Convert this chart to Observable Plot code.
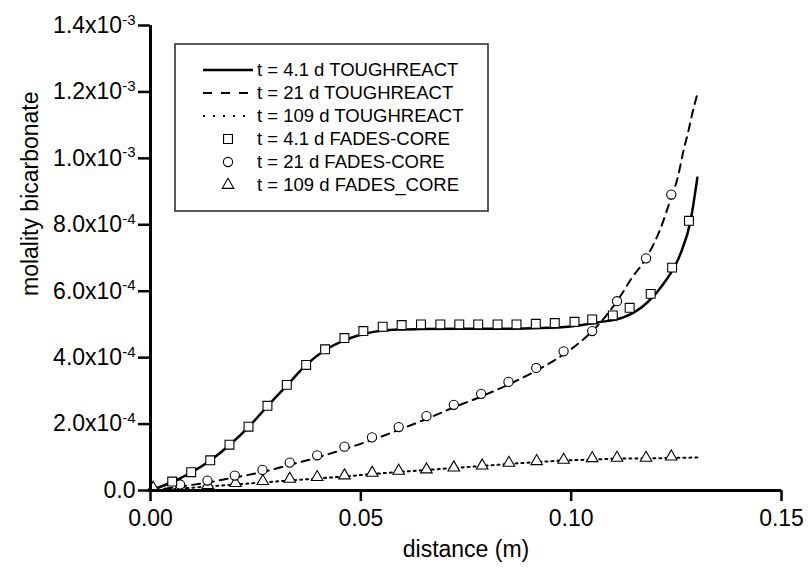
<!DOCTYPE html>
<html><head><meta charset="utf-8">
<script src="https://cdn.jsdelivr.net/npm/d3@7"></script>
<script src="https://cdn.jsdelivr.net/npm/@observablehq/plot@0.6"></script>
<style>html,body{margin:0;padding:0;background:#fff;} #chart svg{display:block;}</style>
</head><body><div id="chart"></div>
<script>
// TOUGHREACT model curves
const tr41_x = [0, 0.00516, 0.00968, 0.01419, 0.01878, 0.0233, 0.02781, 0.0324, 0.03701, 0.04153, 0.04612, 0.05063, 0.05522, 0.05974, 0.0642, 0.0737, 0.0832, 0.0927, 0.0998, 0.1063, 0.1124, 0.1181, 0.122, 0.126, 0.1284, 0.13];
const tr41_y = [0, 2.56e-5, 5.42e-5, 9.03e-5, 1.37e-4, 1.91e-4, 2.54e-4, 3.16e-4, 3.78e-4, 4.23e-4, 4.52e-4, 4.71e-4, 4.82e-4, 4.85e-4, 4.86e-4, 4.87e-4, 4.87e-4, 4.89e-4, 4.94e-4, 5.06e-4, 5.21e-4, 5.66e-4, 6.23e-4, 7.13e-4, 8.13e-4, 9.42e-4];
const tr21_x = [0, 0.00713, 0.01355, 0.01997, 0.02662, 0.03304, 0.0397, 0.04612, 0.05266, 0.05895, 0.06561, 0.07203, 0.07861, 0.0851, 0.09176, 0.09817, 0.10341, 0.10697, 0.11101, 0.11434, 0.11791, 0.12124, 0.12385, 0.12528, 0.12671, 0.1279, 0.12885, 0.13003];
const tr21_y = [0, 1.2e-5, 2.41e-5, 3.91e-5, 5.57e-5, 7.68e-5, 9.94e-5, 1.249e-4, 1.52e-4, 1.822e-4, 2.153e-4, 2.499e-4, 2.83e-4, 3.191e-4, 3.613e-4, 4.095e-4, 4.607e-4, 5.058e-4, 5.721e-4, 6.383e-4, 7.015e-4, 7.888e-4, 8.852e-4, 9.394e-4, 1.0237e-3, 1.0839e-3, 1.1381e-3, 1.1953e-3];
const tr109_x = [0, 0.00713, 0.01355, 0.02021, 0.02662, 0.03304, 0.0397, 0.04612, 0.0527, 0.05895, 0.06561, 0.07203, 0.07885, 0.0851, 0.09176, 0.09817, 0.105, 0.11101, 0.11791, 0.12385, 0.13003];
const tr109_y = [0, 6.0e-6, 1.2e-5, 1.81e-5, 2.41e-5, 3.01e-5, 3.61e-5, 4.22e-5, 4.97e-5, 5.57e-5, 6.17e-5, 6.77e-5, 7.38e-5, 7.98e-5, 8.58e-5, 9.03e-5, 9.33e-5, 9.63e-5, 9.63e-5, 9.79e-5, 9.94e-5];
// FADES-CORE points
const fc41_x = [0.00516, 0.00967, 0.0142, 0.01878, 0.0233, 0.0278, 0.0324, 0.037, 0.0415, 0.0461, 0.0506, 0.0552, 0.0597, 0.0643, 0.0689, 0.0734, 0.0779, 0.0825, 0.087, 0.0916, 0.0961, 0.1008, 0.105, 0.1099, 0.1139, 0.1189, 0.124, 0.128];
const fc41_y = [2.7e-5, 5.5e-5, 9.1e-5, 1.38e-4, 1.92e-4, 2.55e-4, 3.18e-4, 3.78e-4, 4.25e-4, 4.59e-4, 4.8e-4, 4.93e-4, 4.98e-4, 5.0e-4, 5.0e-4, 5.0e-4, 5.0e-4, 5.0e-4, 5.0e-4, 5.02e-4, 5.04e-4, 5.08e-4, 5.15e-4, 5.27e-4, 5.5e-4, 5.92e-4, 6.71e-4, 8.12e-4];
const fc21_x = [0.00704, 0.01355, 0.02004, 0.02662, 0.03311, 0.03962, 0.04611, 0.05265, 0.059, 0.0656, 0.0721, 0.0786, 0.0851, 0.0917, 0.0982, 0.105, 0.1109, 0.1178, 0.1238];
const fc21_y = [1.8e-5, 3.0e-5, 4.5e-5, 6.2e-5, 8.4e-5, 1.06e-4, 1.32e-4, 1.6e-4, 1.91e-4, 2.24e-4, 2.58e-4, 2.91e-4, 3.27e-4, 3.69e-4, 4.19e-4, 4.8e-4, 5.7e-4, 6.99e-4, 8.91e-4];
const fc109_x = [0.00064, 0.0071, 0.01363, 0.02021, 0.02670, 0.03311, 0.03962, 0.04611, 0.05270, 0.059, 0.0656, 0.0721, 0.07885, 0.0852, 0.0918, 0.0982, 0.105, 0.1109, 0.1178, 0.1238];
const fc109_y = [0.8e-5, 1.2e-5, 1.6e-5, 2.2e-5, 2.8e-5, 3.5e-5, 4.0e-5, 4.5e-5, 5.3e-5, 5.9e-5, 6.3e-5, 6.9e-5, 7.5e-5, 8.3e-5, 8.8e-5, 9.2e-5, 9.7e-5, 9.8e-5, 9.8e-5, 1.02e-4];
// Axes
const xTicks = [0, 0.05, 0.10, 0.15];
const xTickLabels = ["0.00", "0.05", "0.10", "0.15"];
const yTicks = [0, 0.0002, 0.0004, 0.0006, 0.0008, 0.0010, 0.0012, 0.0014];
const yTickLabels = ["0.0", "2.0x10^-4", "4.0x10^-4", "6.0x10^-4", "8.0x10^-4", "1.0x10^-3", "1.2x10^-3", "1.4x10^-3"];
const xTitle = "distance (m)";
const yTitle = "molality bicarbonate";
const legendLabels = ["t = 4.1 d TOUGHREACT", "t = 21 d TOUGHREACT", "t = 109 d TOUGHREACT", "t = 4.1 d FADES-CORE", "t = 21 d FADES-CORE", "t = 109 d FADES_CORE"];

const zip = (xs, ys) => xs.map((x, i) => ({x, y: ys[i]}));
const FONT = "'Liberation Sans', Arial, Helvetica, sans-serif";

const chart = Plot.plot({
  width: 809, height: 573,
  marginLeft: 150, marginRight: 28, marginTop: 25, marginBottom: 83,
  style: {fontFamily: FONT, fontSize: "23px", background: "white", color: "black"},
  x: {domain: [0, 0.15], axis: null},
  y: {domain: [0, 0.0014], axis: null},
  marks: [
    Plot.line(zip(tr109_x, tr109_y), {x: "x", y: "y", stroke: "black", strokeWidth: 2, strokeDasharray: "2,4", curve: "linear"}),
    Plot.line(zip(tr21_x, tr21_y), {x: "x", y: "y", stroke: "black", strokeWidth: 2, strokeDasharray: "8,6", curve: "monotone-x"}),
    Plot.line(zip(tr41_x, tr41_y), {x: "x", y: "y", stroke: "black", strokeWidth: 2.5, curve: "monotone-x"}),
    Plot.dot(zip(fc109_x, fc109_y), {x: "x", y: "y", symbol: "triangle", r: 4.3, fill: "white", stroke: "black", strokeWidth: 1.1}),
    Plot.dot(zip(fc21_x, fc21_y), {x: "x", y: "y", symbol: "circle", r: 4.6, fill: "white", stroke: "black", strokeWidth: 1.1}),
    Plot.dot(zip(fc41_x, fc41_y), {x: "x", y: "y", symbol: "square", r: 5, fill: "white", stroke: "black", strokeWidth: 1.1}),
    Plot.ruleX([0], {stroke: "black", strokeWidth: 3}),
    Plot.ruleY([0], {stroke: "black", strokeWidth: 3}),
    Plot.axisX({ticks: xTicks, tickFormat: d => xTickLabels[xTicks.indexOf(d)], tickSize: 11, tickPadding: 8, strokeWidth: 2.5, fontSize: 23, label: null}),
    Plot.axisY({ticks: yTicks, tickFormat: d => yTickLabels[yTicks.indexOf(d)], tickSize: 12, tickPadding: 3, strokeWidth: 2.5, fontSize: 23, label: null}),
    Plot.text([xTitle], {frameAnchor: "bottom", dy: 59, text: d => d, fontSize: 23, lineAnchor: "middle"}),
    Plot.text([yTitle], {frameAnchor: "left", dx: -120, dy: 38, rotate: -90, text: d => d, fontSize: 23, lineAnchor: "middle"})
  ]
});
document.getElementById("chart").appendChild(chart);

// superscript exponents in y tick labels
d3.select(chart).selectAll("text").each(function() {
  const t = this.textContent;
  if (t && t.indexOf("^") >= 0 && this.children.length === 0) {
    const [base, exp] = t.split("^");
    const sel = d3.select(this);
    sel.text(null);
    sel.append("tspan").text(base);
    sel.append("tspan").attr("dy", "-0.55em").attr("font-size", "15px").text(exp);
  }
});

// legend
const svg = d3.select(chart);
const lg = svg.append("g").attr("font-family", FONT).attr("text-anchor", "start");
lg.append("rect").attr("x", 175).attr("y", 44).attr("width", 313).attr("height", 167)
  .attr("fill", "white").attr("stroke", "#333").attr("stroke-width", 1.6);
const dashes = [null, "9,9", "2,8"];
const widths = [2.5, 2, 2];
const syms = [d3.symbolSquare, d3.symbolCircle, d3.symbolTriangle];
const rs = [5, 4.6, 4.3];
legendLabels.forEach((lab, i) => {
  const y = 70 + i * 23;
  if (i < 3) {
    const l = lg.append("line").attr("x1", 203).attr("x2", 253).attr("y1", y).attr("y2", y)
      .attr("stroke", "black").attr("stroke-width", widths[i]);
    if (dashes[i]) l.attr("stroke-dasharray", dashes[i]);
  } else {
    const k = i - 3;
    lg.append("path").attr("transform", `translate(228,${y})`)
      .attr("d", d3.symbol(syms[k], rs[k] * rs[k] * Math.PI)())
      .attr("fill", "white").attr("stroke", "black").attr("stroke-width", 1.1);
  }
  lg.append("text").attr("x", 257).attr("y", y).attr("dy", "0.35em").attr("text-anchor", "start")
    .attr("font-size", "18.5px").attr("fill", "black").text(lab);
});
</script>
</body></html>
